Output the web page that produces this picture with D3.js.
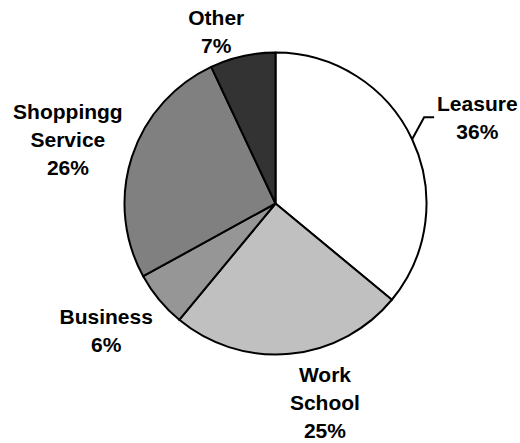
<!DOCTYPE html>
<html>
<head>
<meta charset="utf-8">
<script src="https://cdn.jsdelivr.net/npm/d3@7/dist/d3.min.js"></script>
<style>
  html, body { margin: 0; padding: 0; background: #fff; }
  svg { display: block; }
  text { font-family: "Liberation Sans", Arial, sans-serif; font-weight: bold; font-size: 21px; fill: #000; }
</style>
</head>
<body>
<svg id="chart" width="520" height="443"></svg>
<script>
// Trip purpose shares, clockwise from 12 o'clock
const categories = [["Leasure"], ["Work", "School"], ["Business"], ["Shoppingg", "Service"], ["Other"]];
const shares = [36, 25, 6, 26, 7];
const fills = ["#ffffff", "#c0c0c0", "#969696", "#808080", "#333333"];
// label offsets from the default polar placement
const labelNudge = [[10, 4.5], [29.5, -11.6], [-6, -8], [-6, 1.4], [-13, 35]];

const width = 520, height = 443;
const cx = 275.5, cy = 203.5, radius = 151;
const labelRadius = 212, lineStep = 28, capHalf = 7.5;

const svg = d3.select("#chart");
const g = svg.append("g").attr("transform", `translate(${cx},${cy})`);

const pie = d3.pie().value(d => d).sort(null);
const arcs = pie(shares);
const arc = d3.arc().innerRadius(0).outerRadius(radius);

g.selectAll("path.slice")
  .data(arcs)
  .enter().append("path")
  .attr("class", "slice")
  .attr("d", arc)
  .attr("fill", (d, i) => fills[i])
  .attr("stroke", "#000")
  .attr("stroke-width", 2)
  .attr("stroke-linejoin", "round");

const mid = d => (d.startAngle + d.endAngle) / 2;

// labels: name lines followed by the percentage
arcs.forEach((d, i) => {
  const a = mid(d);
  const x = labelRadius * Math.sin(a) + labelNudge[i][0];
  const y = -labelRadius * Math.cos(a) + labelNudge[i][1];
  const lines = categories[i].concat([shares[i] + "%"]);
  const n = lines.length;
  const t = g.append("text").attr("text-anchor", "middle");
  lines.forEach((s, k) => {
    t.append("tspan")
      .attr("x", x)
      .attr("y", y + (k - (n - 1) / 2) * lineStep + capHalf)
      .text(s);
  });
});

// leader line for the first slice
{
  const d = arcs[0];
  const a = mid(d);
  const p0 = [radius * Math.sin(a), -radius * Math.cos(a)];
  const p1 = [p0[0] + 12, p0[1] - 22];
  const p2 = [p1[0] + 10, p1[1]];
  g.append("path")
    .attr("d", d3.line()([p0, p1, p2]))
    .attr("fill", "none")
    .attr("stroke", "#000")
    .attr("stroke-width", 2);
}
</script>
</body>
</html>
